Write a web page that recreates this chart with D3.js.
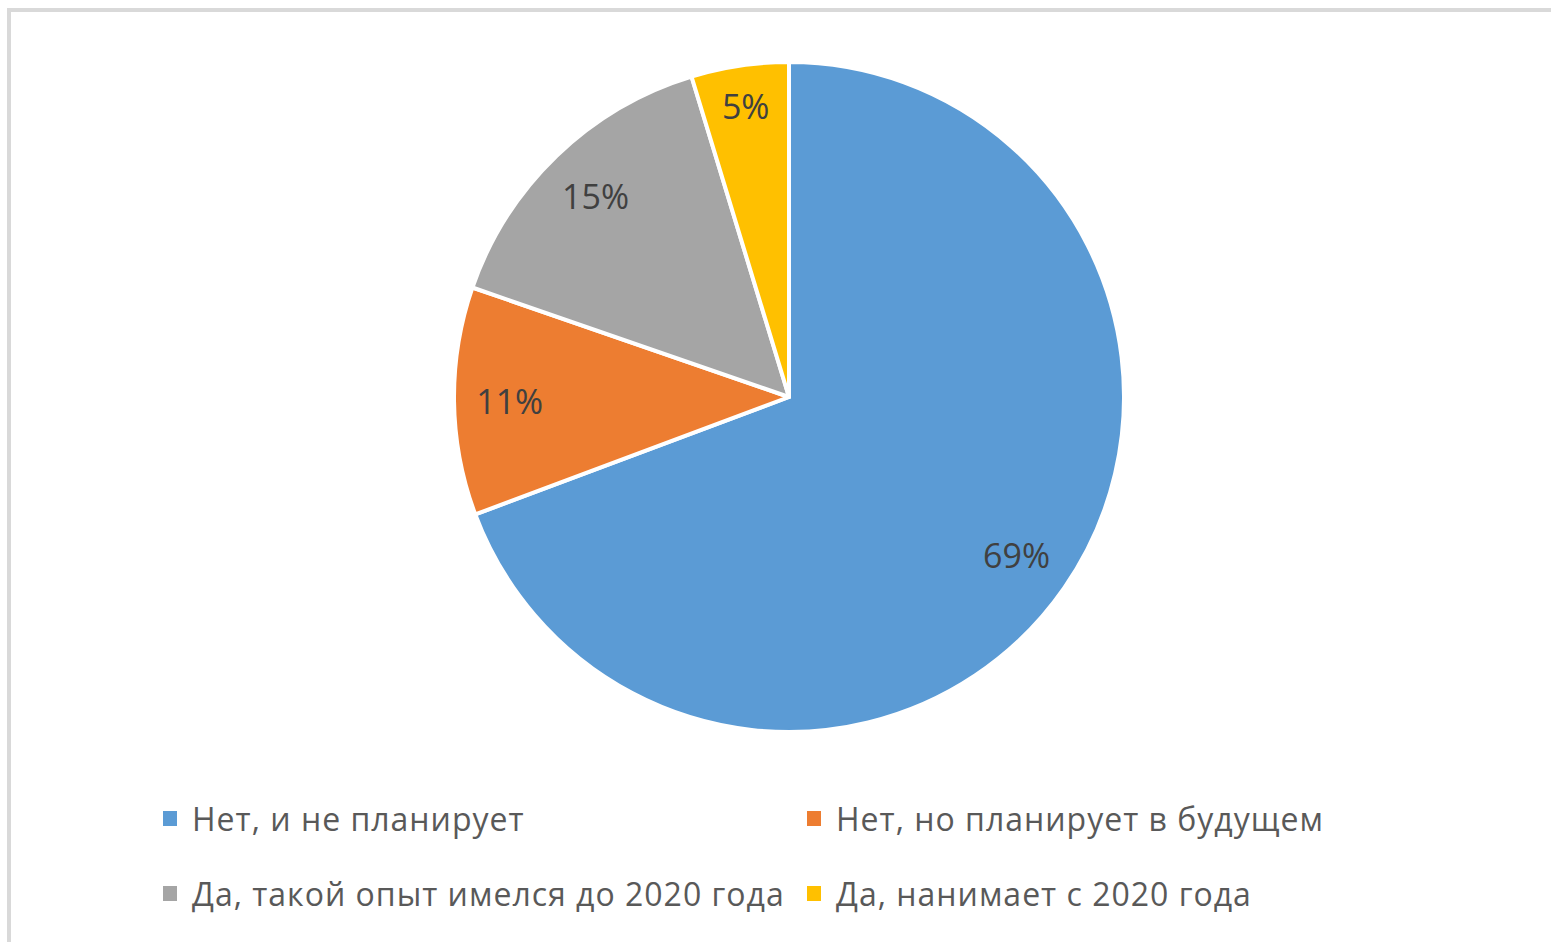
<!DOCTYPE html>
<html>
<head>
<meta charset="utf-8">
<script src="https://cdn.jsdelivr.net/npm/d3@7"></script>
<style>
  html, body { margin: 0; padding: 0; background: #fff; }
  svg { display: block; }
</style>
</head>
<body>
<svg id="chart" width="1551" height="942"></svg>
<script>
const categories = [
  "Нет, и не планирует",
  "Нет, но планирует в будущем",
  "Да, такой опыт имелся до 2020 года",
  "Да, нанимает с 2020 года"
];
const values = [69.3, 11.0, 15.0, 4.7];
const colors = ["#5B9BD5", "#ED7D31", "#A5A5A5", "#FFC000"];

const W = 1551, H = 942;
const FONT = "'Open Sans', 'Noto Sans', sans-serif";
const svg = d3.select("#chart");

// chart frame (top & left edges visible)
svg.append("rect")
  .attr("x", 9).attr("y", 10)
  .attr("width", W + 20).attr("height", H + 20)
  .attr("fill", "#fff")
  .attr("stroke", "#d9d9d9")
  .attr("stroke-width", 4);

const cx = 789, cy = 397, R = 335;
const data = categories.map((c, i) => ({ cat: c, value: values[i], color: colors[i] }));
const total = d3.sum(values);

const pie = d3.pie().value(d => d.value).sort(null);
const arcs = pie(data);
const arc = d3.arc().innerRadius(0).outerRadius(R);

const g = svg.append("g").attr("transform", `translate(${cx},${cy})`);
g.selectAll("path.slice")
  .data(arcs)
  .join("path")
  .attr("class", "slice")
  .attr("d", arc)
  .attr("fill", d => d.data.color)
  .attr("stroke", "#fff")
  .attr("stroke-width", 4)
  .attr("stroke-linejoin", "round");

// labels: "inside end" placement along bisector
const pad = 22;
const labels = g.selectAll("text.lbl")
  .data(arcs)
  .join("text")
  .attr("class", "lbl")
  .attr("font-family", FONT)
  .attr("font-size", 34)
  .attr("fill", "#404040")
  .attr("text-anchor", "middle")
  .attr("dominant-baseline", "central")
  .text(d => Math.round(d.data.value / total * 100) + "%");

labels.each(function(d) {
  const bb = this.getBBox();
  const w = bb.width, h = 30;
  const a = (d.startAngle + d.endAngle) / 2;
  const dx = Math.sin(a), dy = -Math.cos(a);
  const ext = Math.abs(dx) * w / 2 + Math.abs(dy) * h / 2;
  const r = R - pad - ext;
  d3.select(this).attr("x", dx * r).attr("y", dy * r);
});

// legend
const colX = [163, 807];
const rowY = [818, 893];
const leg = svg.append("g");
data.forEach((d, i) => {
  const x = colX[i % 2], y = rowY[Math.floor(i / 2)];
  leg.append("rect")
    .attr("x", x).attr("y", y - 7)
    .attr("width", 14).attr("height", 15)
    .attr("fill", d.color);
  leg.append("text")
    .attr("x", x + 29).attr("y", y)
    .attr("dominant-baseline", "central")
    .attr("font-family", FONT)
    .attr("font-size", 32)
    .attr("letter-spacing", 1)
    .attr("fill", "#595959")
    .text(d.cat);
});
</script>
</body>
</html>
